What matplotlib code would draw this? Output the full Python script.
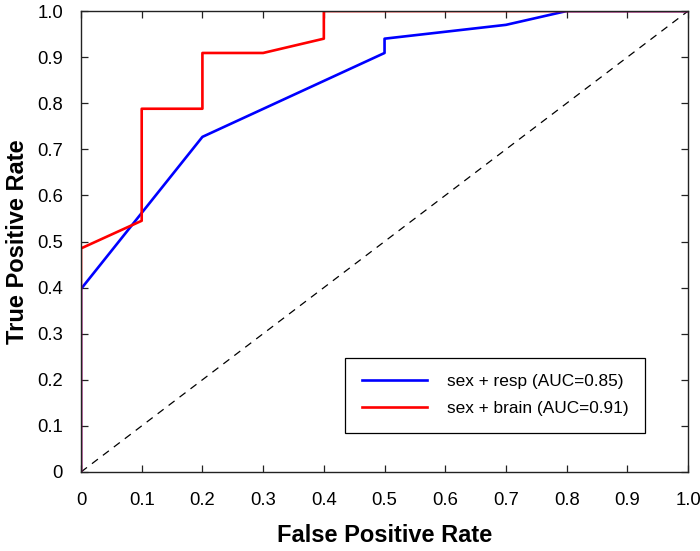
import numpy as np
import matplotlib
matplotlib.use('Agg')
import matplotlib.pyplot as plt

plt.rcParams['font.family'] = ['Liberation Sans', 'DejaVu Sans']

# ROC curve points
resp_fpr = [0.0, 0.0, 0.2, 0.5, 0.5, 0.7, 0.8, 1.0]
resp_tpr = [0.0, 0.397, 0.727, 0.909, 0.94, 0.97, 1.0, 1.0]
brain_fpr = [0.0, 0.0, 0.1, 0.1, 0.2, 0.2, 0.3, 0.4, 0.4, 1.0]
brain_tpr = [0.0, 0.485, 0.545, 0.788, 0.788, 0.909, 0.909, 0.94, 1.0, 1.0]
labels = ['sex + resp (AUC=0.85)', 'sex + brain (AUC=0.91)']
ticks = np.arange(0, 1.01, 0.1)
tick_labels = ['0', '0.1', '0.2', '0.3', '0.4', '0.5', '0.6', '0.7', '0.8', '0.9', '1.0']

fig = plt.figure(figsize=(7, 5.51), dpi=100)
ax = fig.add_subplot(111)
fig.subplots_adjust(left=0.1157, right=0.983, top=0.980, bottom=0.1434)

ax.plot([0, 1], [0, 1], '--', color='black', lw=0.9, dashes=(6, 5))
ax.plot(resp_fpr, resp_tpr, color='blue', lw=1.9, label=labels[0])
ax.plot(brain_fpr, brain_tpr, color='red', lw=1.9, label=labels[1])

ax.set_xlim(0, 1)
ax.set_ylim(0, 1)
ax.set_xticks(ticks)
ax.set_yticks(ticks)
ax.set_xticklabels(tick_labels)
ax.set_yticklabels(tick_labels)
ax.tick_params(direction='in', length=5, width=0.9, top=True, right=True,
               labelsize=13.3, color='#222222')
ax.tick_params(axis='x', pad=14.5)
ax.tick_params(axis='y', pad=13)
for s in ax.spines.values():
    s.set_color('#222222')
    s.set_linewidth(1.0)

ax.set_xlabel('False Positive Rate', fontsize=17, fontweight='bold', labelpad=11)
ax.set_ylabel('True Positive Rate', fontsize=17, fontweight='bold', labelpad=6)

leg = ax.legend(loc='lower right', bbox_to_anchor=(0.929, 0.085), fontsize=12.4,
                fancybox=False, framealpha=1, edgecolor='black',
                handlelength=3.8, handletextpad=1.15, borderpad=0.95,
                labelspacing=0.72, borderaxespad=0)
leg.get_frame().set_linewidth(0.9)

plt.savefig('out.png', dpi=100)
